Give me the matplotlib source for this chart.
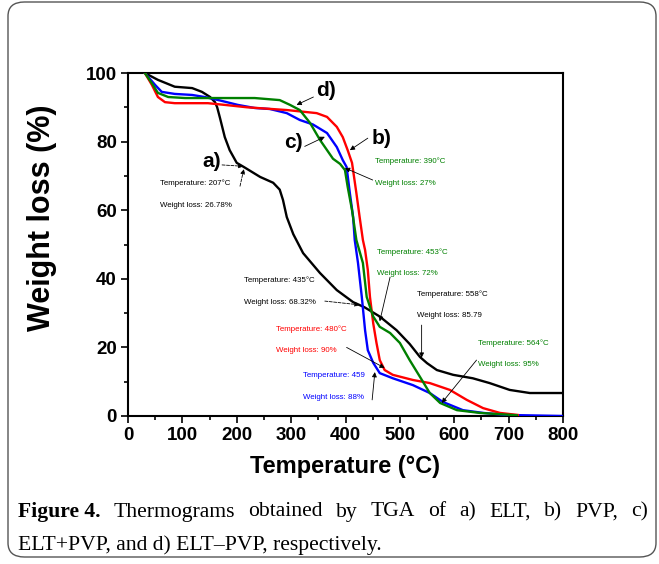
import matplotlib
matplotlib.use("Agg")
import matplotlib.pyplot as plt
from matplotlib.patches import FancyBboxPatch
from matplotlib.ticker import MultipleLocator

# ---------------- data ----------------
elt_T = [31, 55, 86, 118, 136, 151, 160, 164, 169, 178, 187, 200, 213, 243, 267, 279, 285, 292, 304, 322,
         353, 384, 414, 435, 463, 494, 518, 537, 550, 568, 598, 634, 665, 702, 739, 800]
elt_W = [100, 98, 96, 95.6, 94.5, 93, 91.5, 90, 87, 81.3, 77.5, 73.8, 72.6, 69.7, 68, 66, 63, 58, 53, 47.5,
         41.7, 36.7, 33.2, 31.7, 29, 25, 21, 17.2, 15.4, 13.4, 12, 11, 9.6, 7.6, 6.7, 6.7]

pvp_T = [31, 44, 55, 68, 86, 147, 178, 219, 292, 329, 347, 366, 384, 395, 404, 412, 420, 426, 432, 436,
         441, 445, 451, 457, 463, 472, 487, 524, 555, 592, 623, 653, 684, 717]
pvp_W = [100, 96.5, 93, 91.5, 91.2, 91.2, 90.7, 90, 89.2, 88.6, 88.3, 87.2, 84.3, 81.3, 77.5, 73.8, 65, 58, 51.3, 48.4,
         42.6, 34.7, 27, 21.3, 16.3, 13.4, 12, 10.5, 9.6, 7.6, 4.7, 2.3, 0.9, 0.3]

mix_T = [31, 50, 62, 86, 118, 141, 169, 202, 233, 261, 292, 316, 340, 366, 384, 395, 402, 408, 414, 417,
         423, 430, 436, 441, 451, 463, 487, 524, 555, 579, 616, 653, 697, 800]
mix_W = [100, 96.5, 94.5, 93.9, 93.6, 93, 92, 90.7, 89.8, 89.5, 88.3, 86.3, 85, 82.5, 78.4, 74.6, 72.6, 65, 58, 51.3,
         44.6, 34.7, 25, 19.2, 15.5, 12.5, 11, 9, 6.7, 4.1, 1.7, 0.9, 0.3, 0]

cpx_T = [31, 44, 55, 74, 105, 178, 233, 279, 298, 316, 335, 353, 377, 390, 399, 404, 412, 420, 432, 439,
         451, 463, 482, 500, 518, 537, 555, 574, 605, 647, 697, 715]
cpx_W = [100, 97, 94.2, 93, 92.7, 92.7, 92.7, 92.1, 90.7, 89.2, 85.4, 80.5, 75, 73.5, 71.7, 66.8, 60, 51.3, 44.6, 34.7,
         29, 26, 24.2, 21.3, 16.3, 11.4, 6.7, 3.8, 1.7, 0.9, 0.4, 0.2]

x_ticks = [0, 100, 200, 300, 400, 500, 600, 700, 800]
y_ticks = [0, 20, 40, 60, 80, 100]
x_label = "Temperature (°C)"
y_label = "Weight loss (%)"

series_labels = ["a)", "b)", "c)", "d)"]

caption_bold = "Figure 4."
caption_line1 = "Thermograms obtained by TGA of a) ELT, b) PVP, c)"
caption_line2 = "ELT+PVP, and d) ELT–PVP, respectively."

# annotation texts: (line1, line2, color, anchor T, anchor W)
notes = [
    ("Temperature: 207°C", "Weight loss: 26.78%", "black", 59, 67.9),
    ("Temperature: 435°C", "Weight loss: 68.32%", "black", 213, 39.6),
    ("Temperature: 390°C", "Weight loss: 27%", "#008000", 454, 74.3),
    ("Temperature: 453°C", "Weight loss: 72%", "#008000", 458, 47.8),
    ("Temperature: 558°C", "Weight loss: 85.79", "black", 531, 35.6),
    ("Temperature: 480°C", "Weight loss: 90%", "red", 272, 25.4),
    ("Temperature: 459", "Weight loss: 88%", "blue", 322, 11.7),
    ("Temperature: 564°C", "Weight loss: 95%", "#008000", 643, 21.3),
]

# arrows: (tail T, tail W, head T, head W, linestyle)
arrows = [
    (173, 73.2, 212, 72.8, "--"),
    (206, 67.0, 213, 72.0, "--"),
    (341, 93.0, 310, 90.7, "-"),
    (325, 78.6, 362, 81.4, "-"),
    (441, 81.0, 408, 77.5, "-"),
    (450, 68.8, 399, 72.3, "-"),
    (482, 40.5, 463, 27.6, "-"),
    (362, 33.5, 426, 32.4, "--"),
    (540, 26.5, 540, 17.0, "-"),
    (402, 20.0, 472, 14.0, "-"),
    (449, 4.7, 454, 12.8, "-"),
    (641, 16.3, 577, 3.8, "-"),
]

# ---------------- figure ----------------
W_PX, H_PX = 659, 564
DPI = 100
fig = plt.figure(figsize=(W_PX / DPI, H_PX / DPI), dpi=DPI)
fig.patch.set_facecolor("white")

# rounded outer frame
frame = FancyBboxPatch((8 / W_PX, 7 / H_PX), (648 / W_PX), (555 / H_PX),
                       boxstyle="round,pad=0,rounding_size=0.025",
                       transform=fig.transFigure, fill=False,
                       edgecolor="#555555", linewidth=1.0)
fig.patches.append(frame)

ax = fig.add_axes([128 / W_PX, 1 - 416 / H_PX, (563 - 128) / W_PX, (416 - 73) / H_PX])

lw = 1.7
ax.plot(elt_T, elt_W, color="black", lw=lw, zorder=3)
ax.plot(mix_T, mix_W, color="blue", lw=lw, zorder=3)
ax.plot(pvp_T, pvp_W, color="red", lw=lw, zorder=3)
ax.plot(cpx_T, cpx_W, color="#008000", lw=lw, zorder=3)

ax.set_xlim(0, 800)
ax.set_ylim(0, 100)
ax.set_xticks(x_ticks)
ax.set_yticks(y_ticks)
ax.xaxis.set_minor_locator(MultipleLocator(50))
ax.yaxis.set_minor_locator(MultipleLocator(10))
ax.tick_params(which="both", direction="out", top=False, right=False, width=1.2)
ax.tick_params(which="major", length=5, pad=3)
ax.tick_params(which="minor", length=3)
for s in ax.spines.values():
    s.set_linewidth(1.5)

sans = "Liberation Sans"
for lab in ax.get_xticklabels() + ax.get_yticklabels():
    lab.set_fontfamily(sans)
    lab.set_fontweight("bold")
    lab.set_fontsize(13.5)

ax.set_xlabel(x_label, fontfamily=sans, fontweight="bold", fontsize=17, labelpad=8)
ax.set_ylabel(y_label, fontfamily=sans, fontweight="bold", fontsize=22)
ax.yaxis.set_label_coords(-0.163, 0.578)

# series labels
label_pos = [(153, 74.3), (467, 80.8), (305, 79.6), (364, 94.8)]
for lab, (tx, wy) in zip(series_labels, label_pos):
    ax.text(tx, wy, lab, fontfamily=sans, fontweight="bold", fontsize=15,
            ha="center", va="center", zorder=5)

# annotation texts
for l1, l2, col, tx, wy in notes:
    ax.text(tx, wy, l1, color=col, fontfamily=sans, fontsize=5.7, ha="left", va="center", zorder=5)
    ax.text(tx, wy - 6.4, l2, color=col, fontfamily=sans, fontsize=5.7, ha="left", va="center", zorder=5)

for t0, w0, t1, w1, ls in arrows:
    ax.annotate("", xy=(t1, w1), xytext=(t0, w0),
                arrowprops=dict(arrowstyle="-|>", color="black", lw=0.6, linestyle=ls,
                                mutation_scale=7, shrinkA=0, shrinkB=0),
                zorder=6)

# ---------------- caption (justified first line) ----------------
serif = "Liberation Serif"
cap_size = 15.6
fig.canvas.draw()
renderer = fig.canvas.get_renderer()

left_px, right_px = 18, 648
y1 = 1 - 512 / H_PX
y2 = 1 - 545 / H_PX

words = [(caption_bold, "bold")] + [(w, "normal") for w in caption_line1.split(" ")]
artists = []
for w, wt in words:
    t = fig.text(0, y1, w, fontfamily=serif, fontweight=wt, fontsize=cap_size, ha="left", va="center")
    artists.append(t)
widths = [a.get_window_extent(renderer).width for a in artists]
gap = ((right_px - left_px) - sum(widths)) / (len(words) - 1)
x = left_px
for a, wd in zip(artists, widths):
    a.set_x(x / W_PX)
    x += wd + gap

fig.text(left_px / W_PX, y2, caption_line2, fontfamily=serif, fontsize=cap_size, ha="left", va="center")

fig.savefig("out.png", dpi=DPI, facecolor="white")
